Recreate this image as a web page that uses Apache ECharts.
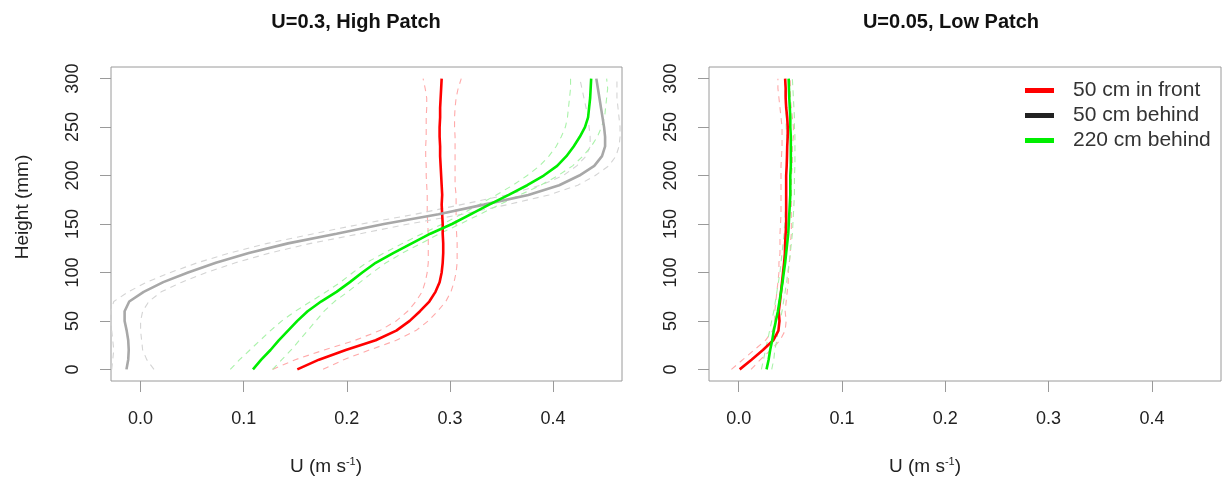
<!DOCTYPE html>
<html>
<head>
<meta charset="utf-8">
<script src="https://cdn.jsdelivr.net/npm/echarts@6/dist/echarts.min.js"></script>
<style>html,body{margin:0;padding:0;background:#fff;}#c{width:1223px;height:491px;}</style>
</head>
<body>
<div id="c"></div>
<script>
// Heights (mm)
const heights = [0,10,20,30,40,50,60,70,80,90,100,110,120,130,140,150,160,170,180,190,200,210,220,230,240,250,260,270,280,290,300];
const xTicks = [0, 0.1, 0.2, 0.3, 0.4];
const yTicks = [0, 50, 100, 150, 200, 250, 300];
const legendNames = ['50 cm in front', '50 cm behind', '220 cm behind'];

// Left panel: U=0.3, High Patch
const highFront = [0.152,0.173,0.199,0.228,0.248,0.261,0.271,0.280,0.286,0.290,0.292,0.293,0.2935,0.2935,0.293,0.293,0.2925,0.292,0.2925,0.292,0.2915,0.291,0.2905,0.2905,0.290,0.290,0.2905,0.2905,0.291,0.2915,0.292];
const highFrontLo = [0.128,0.150,0.178,0.208,0.232,0.248,0.259,0.267,0.273,0.276,0.278,0.279,0.279,0.279,0.279,0.2785,0.278,0.278,0.278,0.2775,0.277,0.277,0.2765,0.2765,0.277,0.277,0.277,0.2775,0.2775,0.276,0.274];
const highFrontHi = [0.177,0.197,0.222,0.248,0.267,0.279,0.288,0.296,0.301,0.304,0.306,0.307,0.307,0.307,0.3065,0.306,0.306,0.306,0.306,0.305,0.305,0.305,0.305,0.305,0.305,0.3045,0.3045,0.305,0.306,0.308,0.311];

const highBehind = [-0.0137,-0.012,-0.0115,-0.012,-0.0135,-0.0155,-0.0155,-0.011,0.003,0.022,0.046,0.073,0.105,0.143,0.190,0.236,0.289,0.333,0.376,0.406,0.4255,0.440,0.4475,0.4505,0.4505,0.4495,0.448,0.4465,0.445,0.4435,0.442];
const highBehindLo = [-0.028,-0.027,-0.026,-0.027,-0.028,-0.029,-0.029,-0.026,-0.012,0.006,0.029,0.055,0.086,0.123,0.168,0.214,0.266,0.311,0.355,0.388,0.410,0.423,0.432,0.436,0.436,0.435,0.434,0.432,0.430,0.428,0.426];
const highBehindHi = [0.013,0.006,0.002,0.001,0.000,0.000,0.002,0.008,0.020,0.040,0.064,0.092,0.125,0.165,0.213,0.260,0.312,0.356,0.396,0.424,0.441,0.454,0.461,0.464,0.465,0.465,0.464,0.463,0.462,0.462,0.462];

const highFar = [0.109,0.117,0.126,0.134,0.143,0.152,0.162,0.175,0.190,0.203,0.215,0.228,0.245,0.263,0.281,0.302,0.320,0.338,0.357,0.375,0.391,0.404,0.413,0.420,0.426,0.431,0.434,0.435,0.436,0.4365,0.437];
const highFarLo = [0.087,0.096,0.106,0.116,0.126,0.137,0.150,0.165,0.180,0.194,0.206,0.219,0.236,0.254,0.273,0.293,0.311,0.328,0.345,0.361,0.375,0.387,0.396,0.403,0.408,0.412,0.414,0.415,0.416,0.417,0.417];
const highFarHi = [0.128,0.137,0.146,0.154,0.162,0.170,0.178,0.188,0.201,0.213,0.225,0.238,0.254,0.272,0.290,0.310,0.329,0.348,0.368,0.388,0.405,0.419,0.429,0.437,0.443,0.447,0.450,0.451,0.452,0.453,0.452];

// Right panel: U=0.05, Low Patch
const lowFront = [0.001,0.0125,0.0235,0.0335,0.0385,0.0395,0.0388,0.040,0.041,0.042,0.043,0.044,0.0448,0.045,0.0455,0.046,0.046,0.046,0.046,0.046,0.046,0.0465,0.0468,0.047,0.0475,0.0475,0.047,0.046,0.0455,0.0455,0.045];
const lowFrontLo = [-0.007,0.004,0.015,0.026,0.033,0.035,0.035,0.036,0.037,0.038,0.039,0.039,0.040,0.040,0.040,0.0405,0.041,0.041,0.041,0.041,0.041,0.041,0.0415,0.042,0.042,0.042,0.041,0.040,0.039,0.038,0.038];
const lowFrontHi = [0.012,0.021,0.031,0.040,0.045,0.046,0.045,0.046,0.047,0.048,0.048,0.049,0.050,0.050,0.051,0.051,0.051,0.051,0.051,0.051,0.051,0.052,0.052,0.052,0.053,0.053,0.052,0.051,0.050,0.050,0.050];

const lowFar = [0.027,0.029,0.0305,0.0325,0.034,0.036,0.038,0.0395,0.041,0.0425,0.0437,0.045,0.046,0.047,0.048,0.0485,0.049,0.0495,0.050,0.050,0.050,0.0505,0.0505,0.0505,0.0505,0.050,0.050,0.0495,0.049,0.0487,0.0484];
const lowFarLo = [0.022,0.024,0.026,0.028,0.030,0.032,0.034,0.0355,0.037,0.0385,0.040,0.041,0.042,0.043,0.044,0.0445,0.045,0.0455,0.046,0.046,0.046,0.0465,0.0465,0.0465,0.0465,0.046,0.046,0.0455,0.045,0.045,0.0445];
const lowFarHi = [0.032,0.034,0.035,0.037,0.038,0.040,0.042,0.0435,0.045,0.0465,0.0475,0.049,0.050,0.051,0.052,0.0525,0.053,0.0535,0.054,0.054,0.054,0.0545,0.0545,0.0545,0.0545,0.054,0.054,0.0535,0.053,0.0525,0.052];

const RED = '#ff0000', GREEN = '#00ee00', GRAY = '#a8a8a8';
const RED_L = '#ffaaaa', GREEN_L = '#aaf2aa', GRAY_L = '#d4d4d4';
const FONT = '"Liberation Sans", Arial, sans-serif';

function pts(xs) { return xs.map((v, i) => [v, heights[i]]); }
function mainLine(name, xs, color, gi) {
  return { type: 'line', name: name, xAxisIndex: gi, yAxisIndex: gi, data: pts(xs), symbol: 'none', showSymbol: false,
    lineStyle: { color: color, width: 2.6 }, itemStyle: { color: color }, silent: true, animation: false, z: 3 };
}
function bandLine(xs, color, gi) {
  return { type: 'line', name: 'band', xAxisIndex: gi, yAxisIndex: gi, data: pts(xs), symbol: 'none', showSymbol: false,
    lineStyle: { color: color, width: 1.1, type: [6, 5] }, silent: true, animation: false, z: 2 };
}

const grids = [
  { left: 111, top: 67, width: 511, height: 314 },
  { left: 709, top: 67, width: 512, height: 314 }
];
grids.forEach(g => { g.show = true; g.borderColor = '#9a9a9a'; g.borderWidth = 1; g.backgroundColor = 'transparent'; });

function xAx(gi) {
  return { type: 'value', gridIndex: gi, min: -0.0287, max: 0.4669, position: 'bottom',
    axisLine: { show: false, onZero: false }, splitLine: { show: false },
    axisTick: { show: true, customValues: xTicks, length: 11, inside: false, lineStyle: { color: '#9a9a9a', width: 1 } },
    axisLabel: { show: true, customValues: xTicks, margin: 29, fontSize: 18, fontFamily: FONT, color: '#222',
      formatter: v => v.toFixed(1) } };
}
function yAx(gi) {
  return { type: 'value', gridIndex: gi, min: -12, max: 312, position: 'left',
    axisLine: { show: false, onZero: false }, splitLine: { show: false },
    axisTick: { show: true, customValues: yTicks, length: 11, inside: false, lineStyle: { color: '#9a9a9a', width: 1 } },
    axisLabel: { show: true, customValues: yTicks, rotate: 90, margin: 29, fontSize: 18, fontFamily: FONT, color: '#222',
      formatter: v => String(v) } };
}

const uLabel = (x) => ({ type: 'text', x: x, y: 467, style: {
  text: '{a|U (m s}{s|-1}{a|)}', textAlign: 'center', textVerticalAlign: 'middle',
  rich: { a: { fontSize: 19, fontFamily: FONT, fill: '#222', color: '#222' },
          s: { fontSize: 11, fontFamily: FONT, fill: '#222', color: '#222', verticalAlign: 'top', padding: [0, 0, 10, 0] } } } });

const option = {
  backgroundColor: '#ffffff',
  animation: false,
  grid: grids,
  xAxis: [xAx(0), xAx(1)],
  yAxis: [yAx(0), yAx(1)],
  legend: {
    orient: 'vertical', left: 1020, top: 75, itemGap: 4, itemWidth: 29, itemHeight: 5, icon: 'rect',
    selectedMode: false,
    textStyle: { fontSize: 21, fontFamily: FONT, color: '#333', padding: [0, 0, 0, 14] },
    data: [
      { name: legendNames[0], itemStyle: { color: RED } },
      { name: legendNames[1], itemStyle: { color: '#222' } },
      { name: legendNames[2], itemStyle: { color: GREEN } }
    ]
  },
  graphic: [
    { type: 'text', x: 356, y: 22, style: { text: 'U=0.3, High Patch', font: 'bold 20px ' + FONT, fill: '#111', textAlign: 'center', textVerticalAlign: 'middle' } },
    { type: 'text', x: 951, y: 22, style: { text: 'U=0.05, Low Patch', font: 'bold 20px ' + FONT, fill: '#111', textAlign: 'center', textVerticalAlign: 'middle' } },
    uLabel(326), uLabel(925),
    { type: 'text', x: 23, y: 207, rotation: Math.PI / 2, style: { text: 'Height (mm)', font: '19px ' + FONT, fill: '#222', textAlign: 'center', textVerticalAlign: 'middle' } }
  ],
  series: [
    bandLine(highFrontLo, RED_L, 0), bandLine(highFrontHi, RED_L, 0),
    bandLine(highBehindLo, GRAY_L, 0), bandLine(highBehindHi, GRAY_L, 0),
    bandLine(highFarLo, GREEN_L, 0), bandLine(highFarHi, GREEN_L, 0),
    mainLine(legendNames[0], highFront, RED, 0),
    mainLine(legendNames[1], highBehind, GRAY, 0),
    mainLine(legendNames[2], highFar, GREEN, 0),
    bandLine(lowFrontLo, RED_L, 1), bandLine(lowFrontHi, RED_L, 1),
    bandLine(lowFarLo, GREEN_L, 1), bandLine(lowFarHi, GREEN_L, 1),
    mainLine(legendNames[0], lowFront, RED, 1),
    mainLine(legendNames[2], lowFar, GREEN, 1)
  ]
};
const chart = echarts.init(document.getElementById('c'), null, { renderer: 'canvas' });
chart.setOption(option);
</script>
</body>
</html>
